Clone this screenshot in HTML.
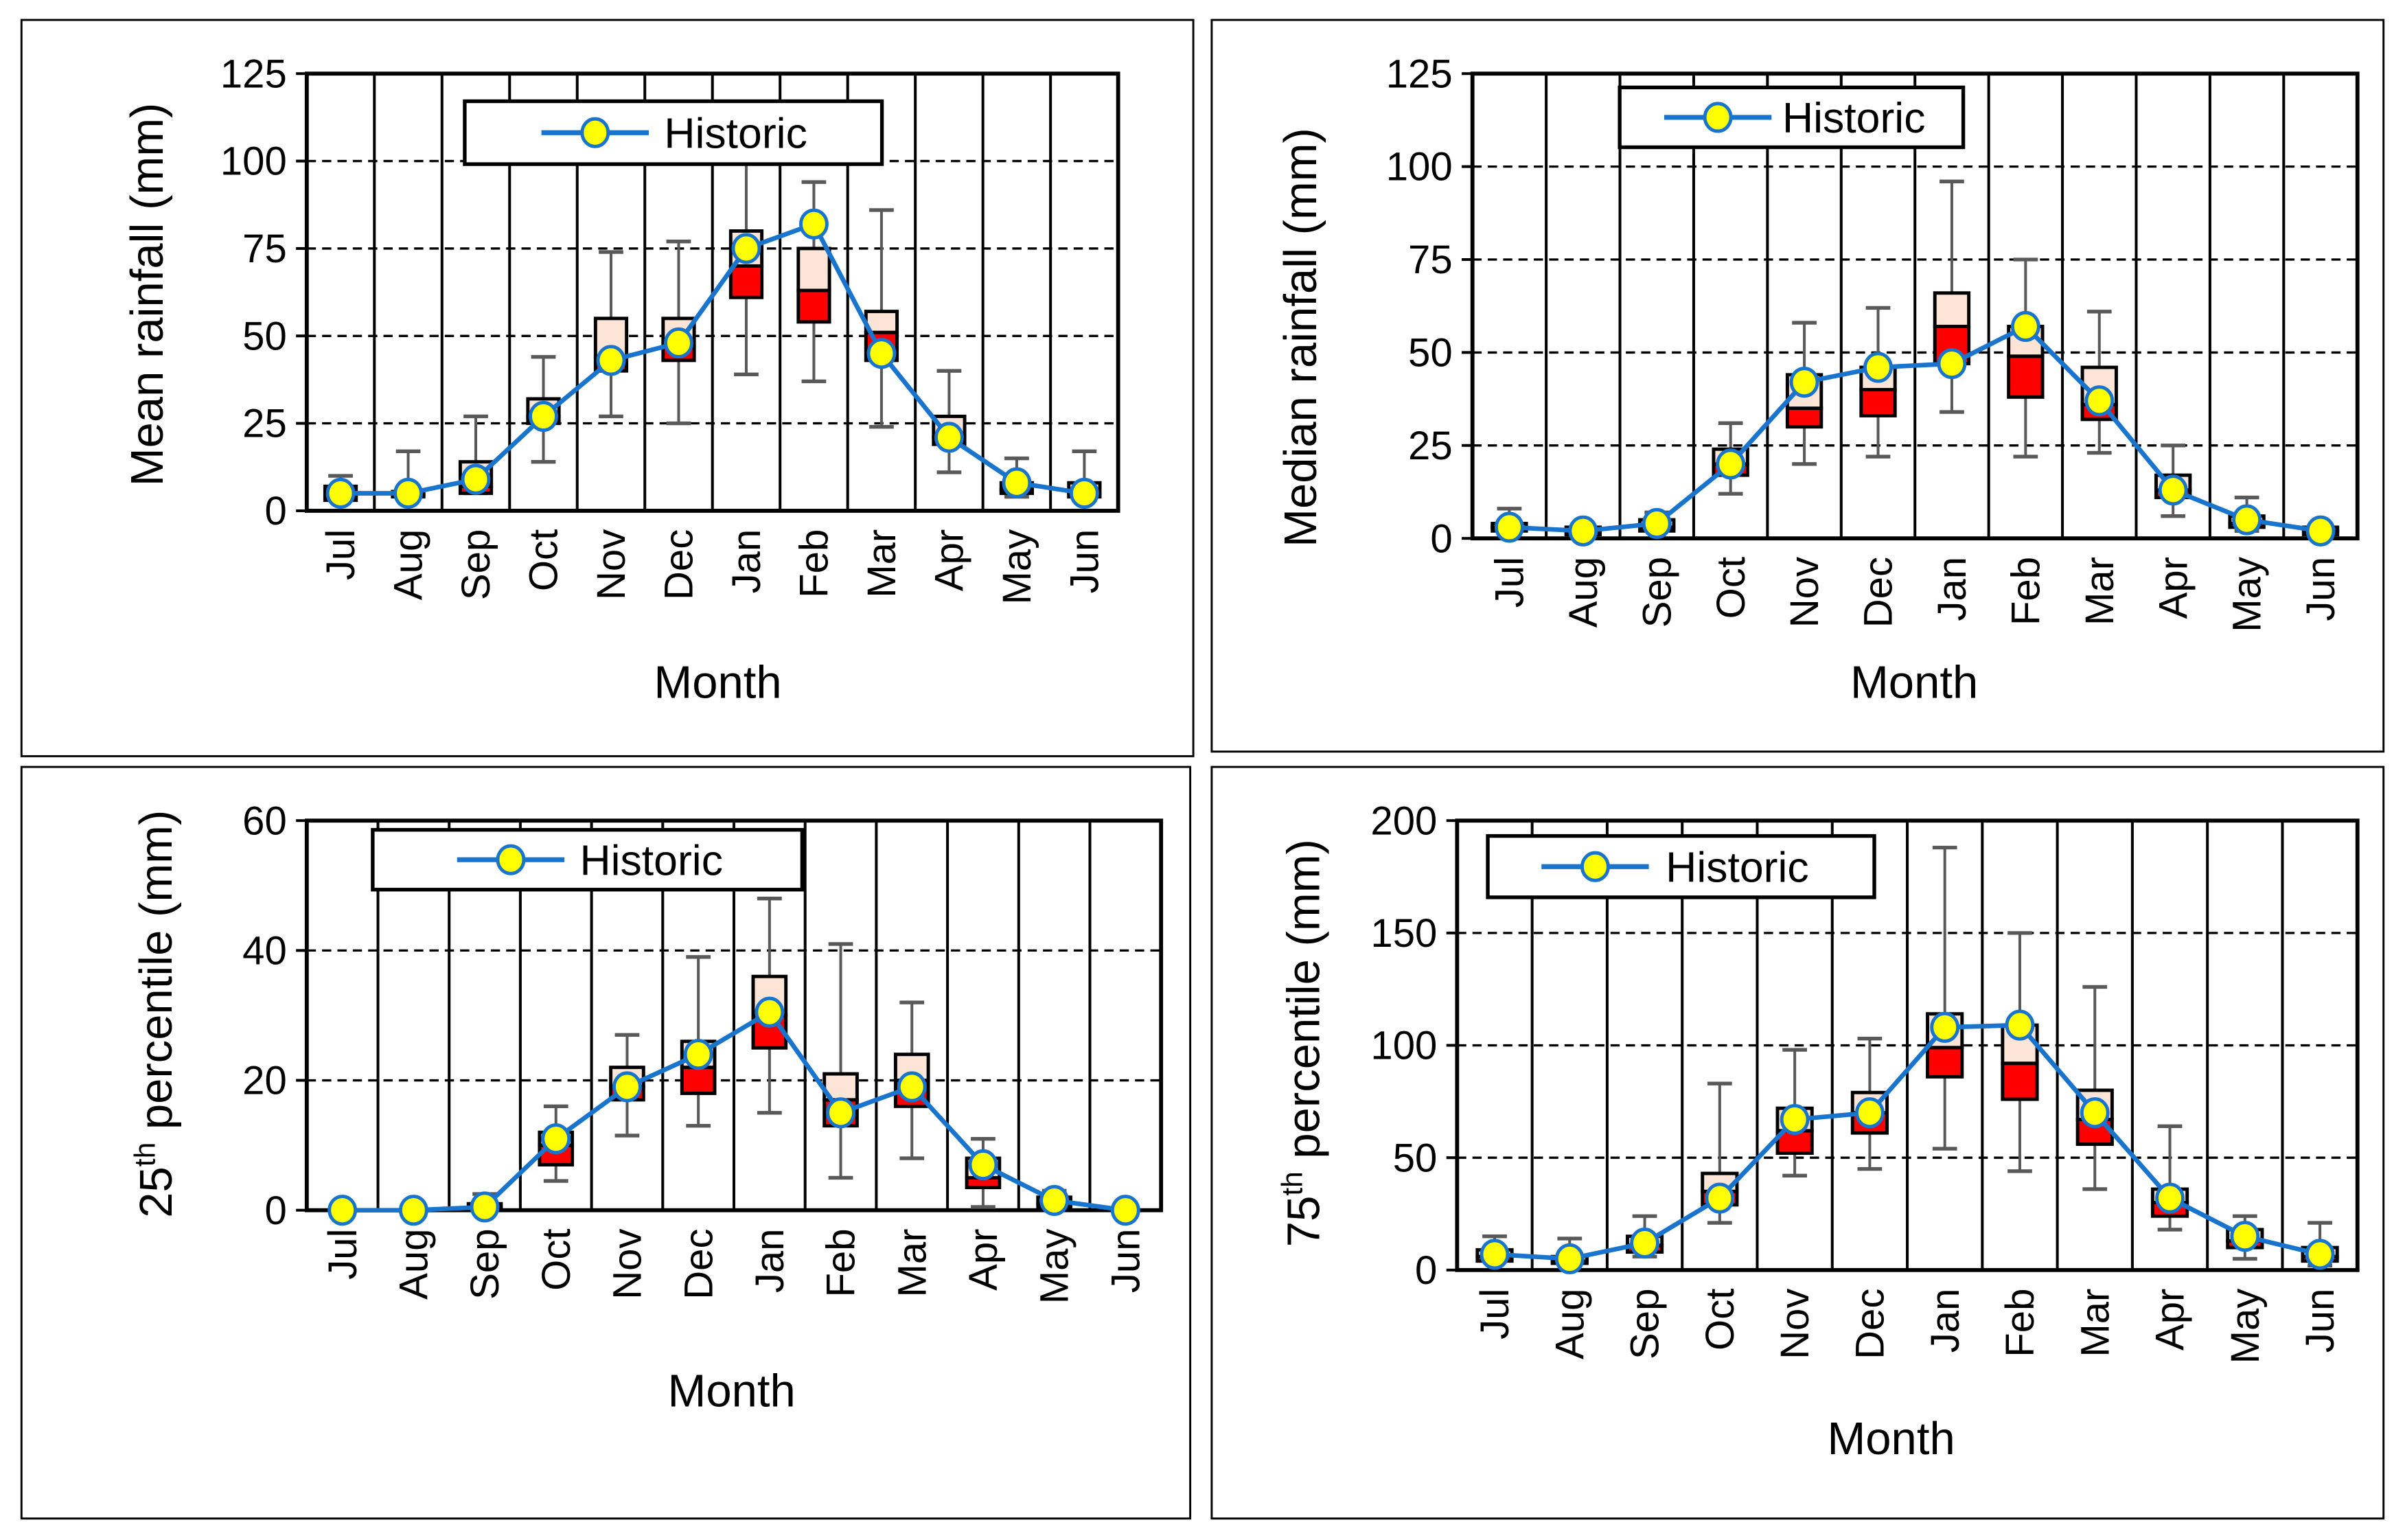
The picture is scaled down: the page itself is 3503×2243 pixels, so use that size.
<!DOCTYPE html>
<html><head><meta charset="utf-8"><style>
html,body{margin:0;padding:0;background:#fff;}
svg{display:block;font-family:"Liberation Sans",sans-serif;}
</style></head><body>
<svg id="chart" width="3503" height="2243" viewBox="0 0 1568 1004" xmlns="http://www.w3.org/2000/svg"></svg>
<script>
const months = ["Jul","Aug","Sep","Oct","Nov","Dec","Jan","Feb","Mar","Apr","May","Jun"];
// Panel A: mean
const meanHist = [5,5,9,27,43,48,75,82,45,21,8,5];
const meanWLo = [4,4,5,14,27,25,39,37,24,11,4,4];
const meanWHi = [10,17,27,44,74,77,100,94,86,40,15,17];
const meanBLo = [3,4,5,25,40,43,61,54,43,19,5,4];
const meanBMid = [4,4.5,7,27,44,47,70,63,51,21,6,5];
const meanBHi = [7,5.5,14,32,55,55,80,75,57,27,8,8];
const meanTicks = [0,25,50,75,100,125];
// Panel B: median
const medHist = [3,2,4,20,42,46,47,57,37,13,5,2];
const medWLo = [1,1,2,12,20,22,34,22,23,6,2,1];
const medWHi = [8,2,7,31,58,62,96,75,61,25,11,2];
const medBLo = [2,1,2,17,30,33,47,38,32,11,3,1];
const medBMid = [3,2,3,20,35,40,57,49,36,13,4,2];
const medBHi = [4,3,5,24,44,46,66,57,46,17,6,3];
const medTicks = [0,25,50,75,100,125];
// Panel C: 25th percentile
const p25Hist = [0,0,0.5,11,19,24,30.5,15,19,7,1.5,0];
const p25WLo = [0,0,0,4.5,11.5,13,15,5,8,0.5,0.5,0];
const p25WHi = [0,0,2.5,16,27,39,48,41,32,11,3,0];
const p25BLo = [0,0,0,7,17,18,25,13,16,3.5,0.5,0];
const p25BMid = [0,0,0.3,10,19,22,30,17,20,5,1,0];
const p25BHi = [0,0,1,12,22,26,36,21,24,8,2,0];
const p25Ticks = [0,20,40,60];
// Panel D: 75th percentile
const p75Hist = [7,5,12,32,67,70,108,109,70,32,15,7];
const p75WLo = [4,3,6,21,42,45,54,44,36,18,5,2];
const p75WHi = [15,14,24,83,98,103,188,150,126,64,24,21];
const p75BLo = [4,3,8,29,52,61,86,76,56,24,10,4];
const p75BMid = [6,4,11,35,62,70,99,92,67,30,13,6];
const p75BHi = [9,6,15,43,72,79,114,109,80,36,18,10];
const p75Ticks = [0,50,100,150,200];

const NS="http://www.w3.org/2000/svg";
const svg=document.getElementById('chart');
function mk(tag,attrs,parent,name,inter){const e=document.createElementNS(NS,tag);for(const k in attrs)e.setAttribute(k,attrs[k]);(parent||svg).appendChild(e);


return e;}

function panel(cfg){
  const g=mk('g',{},svg,cfg.id,false);
  mk('rect',{x:cfg.bx,y:cfg.by,width:cfg.bw,height:cfg.bh,fill:'#fff',stroke:'#000','stroke-width':1.3},g,'panel-border',false);
  const L=cfg.L,R=cfg.R,T=cfg.T,B=cfg.B,max=cfg.max;
  const ys=v=>B-(v/max)*(B-T);
  const cw=(R-L)/12;
  const xs=i=>L+cw*(i+0.5);
  cfg.ticks.forEach(t=>{ if(t>0&&t<max) mk('line',{x1:L,x2:R,y1:ys(t),y2:ys(t),stroke:'#000','stroke-width':1.5,'stroke-dasharray':'6,4'},g,'gridline-'+t,false);});
  for(let i=1;i<12;i++) mk('line',{x1:L+cw*i,x2:L+cw*i,y1:T,y2:B,stroke:'#000','stroke-width':1.8},g,'month-separator',false);
  mk('rect',{x:L,y:T,width:R-L,height:B-T,fill:'none',stroke:'#000','stroke-width':2.6},g,'plot-frame',false);
  cfg.ticks.forEach(t=>{
    mk('line',{x1:L-7,x2:L,y1:ys(t),y2:ys(t),stroke:'#000','stroke-width':1.8},g,'y-tick',false);
    const tx=mk('text',{x:L-13,y:ys(t)+9,'text-anchor':'end','font-size':26,fill:'#000'},g,'y-tick-label',false);tx.textContent=t;
  });
  months.forEach((m,i)=>{
    const tx=mk('text',{transform:`translate(${xs(i)+9},${B+12}) rotate(-90)`,'text-anchor':'end','font-size':26,fill:'#000'},g,'x-tick-label-'+m.toLowerCase(),false);tx.textContent=m;
  });
  const xt=mk('text',{x:cfg.mx,y:cfg.my,'text-anchor':'middle','font-size':30,fill:'#000'},g,'x-axis-title',false);xt.textContent='Month';
  const yt=mk('text',{transform:`translate(${cfg.tx},${cfg.ty}) rotate(-90)`,'text-anchor':'middle','font-size':30,fill:'#000'},g,'y-axis-title',false);
  if(cfg.sup){yt.textContent=cfg.sup[0];const s=mk('tspan',{'font-size':19,dy:-11},yt,'superscript',false);s.textContent=cfg.sup[1];const r=mk('tspan',{dy:11},yt,'title-rest',false);r.textContent=cfg.sup[2];}
  else yt.textContent=cfg.title;
  const bw=cw*0.46;
  months.forEach((m,i)=>{
    const x=xs(i);
    mk('line',{x1:x,x2:x,y1:ys(cfg.wlo[i]),y2:ys(cfg.whi[i]),stroke:'#595959','stroke-width':1.8},g,'whisker-'+m.toLowerCase(),false);
    [cfg.wlo[i],cfg.whi[i]].forEach(v=>mk('line',{x1:x-8,x2:x+8,y1:ys(v),y2:ys(v),stroke:'#595959','stroke-width':2.4},g,'whisker-cap',false));
    mk('rect',{x:x-bw/2,y:ys(cfg.bmid[i]),width:bw,height:Math.max(0,ys(cfg.blo[i])-ys(cfg.bmid[i])),fill:'#ff0000',stroke:'#000','stroke-width':2.2},g,'box-lower-'+m.toLowerCase(),false);
    mk('rect',{x:x-bw/2,y:ys(cfg.bhi[i]),width:bw,height:Math.max(0,ys(cfg.bmid[i])-ys(cfg.bhi[i])),fill:'#fce4d6',stroke:'#000','stroke-width':2.2},g,'box-upper-'+m.toLowerCase(),false);
  });
  const pts=cfg.hist.map((v,i)=>xs(i)+','+ys(v)).join(' ');
  mk('polyline',{points:pts,fill:'none',stroke:'#1874cd','stroke-width':3},g,'historic-line',false);
  cfg.hist.forEach((v,i)=>mk('ellipse',{cx:xs(i),cy:ys(v),rx:8.5,ry:9,fill:'#ffff00',stroke:'#1874cd','stroke-width':2.2},g,'historic-point-'+months[i].toLowerCase(),false));
  const lg=mk('g',{},g,'legend',false);
  const [lx,ly,lw,lh,lo,to]=cfg.leg;
  mk('rect',{x:lx,y:ly,width:lw,height:lh,fill:'#fff',stroke:'#000','stroke-width':2.4},lg,'legend-box',false);
  const cy=ly+lh/2;
  mk('line',{x1:lx+lo,x2:lx+lo+70,y1:cy,y2:cy,stroke:'#1874cd','stroke-width':3.2},lg,'legend-line',false);
  mk('ellipse',{cx:lx+lo+35,cy:cy,rx:8.5,ry:9,fill:'#ffff00',stroke:'#1874cd','stroke-width':2.2},lg,'legend-marker',false);
  const lt=mk('text',{x:lx+to,y:cy+10,'font-size':28,fill:'#000'},lg,'legend-label',false);lt.textContent='Historic';
}

panel({id:'mean-rainfall-panel',bx:14,by:13,bw:764,bh:480,L:200,R:729,T:48,B:333,max:125,ticks:meanTicks,
  hist:meanHist,wlo:meanWLo,whi:meanWHi,blo:meanBLo,bmid:meanBMid,bhi:meanBHi,mx:468,my:455,tx:106,ty:192,title:'Mean rainfall (mm)',leg:[303,66,272,41,50,130]});
panel({id:'median-rainfall-panel',bx:790,by:13,bw:764,bh:477,L:960,R:1537,T:48,B:351,max:125,ticks:medTicks,
  hist:medHist,wlo:medWLo,whi:medWHi,blo:medBLo,bmid:medBMid,bhi:medBHi,mx:1248,my:455,tx:858,ty:220,title:'Median rainfall (mm)',leg:[1056,57,224,39,29,106]});
panel({id:'p25-panel',bx:14,by:500,bw:762,bh:490,L:200,R:757,T:535,B:789,max:60,ticks:p25Ticks,
  hist:p25Hist,wlo:p25WLo,whi:p25WHi,blo:p25BLo,bmid:p25BMid,bhi:p25BHi,mx:477,my:917,tx:112,ty:661,sup:['25','th',' percentile (mm)'],leg:[243,541,280,39,55,135]});
panel({id:'p75-panel',bx:790,by:500,bw:764,bh:490,L:950,R:1537,T:535,B:828,max:200,ticks:p75Ticks,
  hist:p75Hist,wlo:p75WLo,whi:p75WHi,blo:p75BLo,bmid:p75BMid,bhi:p75BHi,mx:1233,my:948,tx:860,ty:680,sup:['75','th',' percentile (mm)'],leg:[970,545,252,40,35,116]});
</script>
</body></html>
